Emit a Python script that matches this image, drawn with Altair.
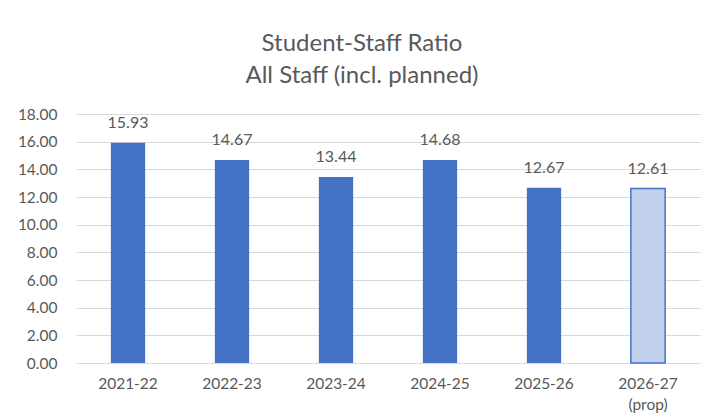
import altair as alt
import pandas as pd

years = ["2021-22", "2022-23", "2023-24", "2024-25", "2025-26", "2026-27"]
ratios = [15.93, 14.67, 13.44, 14.68, 12.67, 12.61]
planned = [False, False, False, False, False, True]

df = pd.DataFrame({"year": years, "ratio": ratios, "planned": planned})

FONT = "Lato"
GREY = "#595959"

x = alt.X(
    "year:N",
    sort=years,
    scale=alt.Scale(paddingInner=0.67, paddingOuter=0.335),
    axis=alt.Axis(
        title=None,
        labelAngle=0,
        labelFontSize=15.5,
        labelColor=GREY,
        labelFont=FONT,
        labelPadding=13,
        ticks=False,
        domainColor="#d9d9d9",
        labelLineHeight=21,
        labelExpr="datum.value == '2026-27' ? ['2026-27', '(prop)'] : datum.value",
    ),
)
y = alt.Y(
    "ratio:Q",
    scale=alt.Scale(domain=[0, 18]),
    axis=alt.Axis(
        title=None,
        values=[0, 2, 4, 6, 8, 10, 12, 14, 16, 18],
        format=".2f",
        labelFontSize=15.5,
        labelColor=GREY,
        labelFont=FONT,
        labelPadding=19,
        ticks=False,
        domain=False,
        gridColor="#d9d9d9",
    ),
)

base = alt.Chart(df)

bars = base.mark_bar().encode(
    x=x,
    y=y,
    fill=alt.condition("datum.planned", alt.value("#c0cfec"), alt.value("#4472C4")),
    stroke=alt.condition("datum.planned", alt.value("#4472C4"), alt.value(None)),
    strokeWidth=alt.value(1.5),
)

labels = base.mark_text(
    baseline="bottom", dy=-12, fontSize=16, font=FONT, color=GREY
).encode(x=x, y=y, text=alt.Text("ratio:Q", format=".2f"))

chart = (
    (bars + labels)
    .properties(
        width=624,
        height=249,
        autosize=alt.AutoSizeParams(type="none"),
        padding={"left": 68, "top": 106, "right": 4, "bottom": 50},
        title=alt.TitleParams(
            ["Student-Staff Ratio", "All Staff (incl. planned)"],
            fontSize=24,
            font=FONT,
            color=GREY,
            fontWeight="normal",
            lineHeight=32,
            offset=19,
            dx=-26,
        ),
    )
    .configure_view(stroke=None)
)

chart.save("out.html", embed_options={"renderer": "svg", "actions": False})
